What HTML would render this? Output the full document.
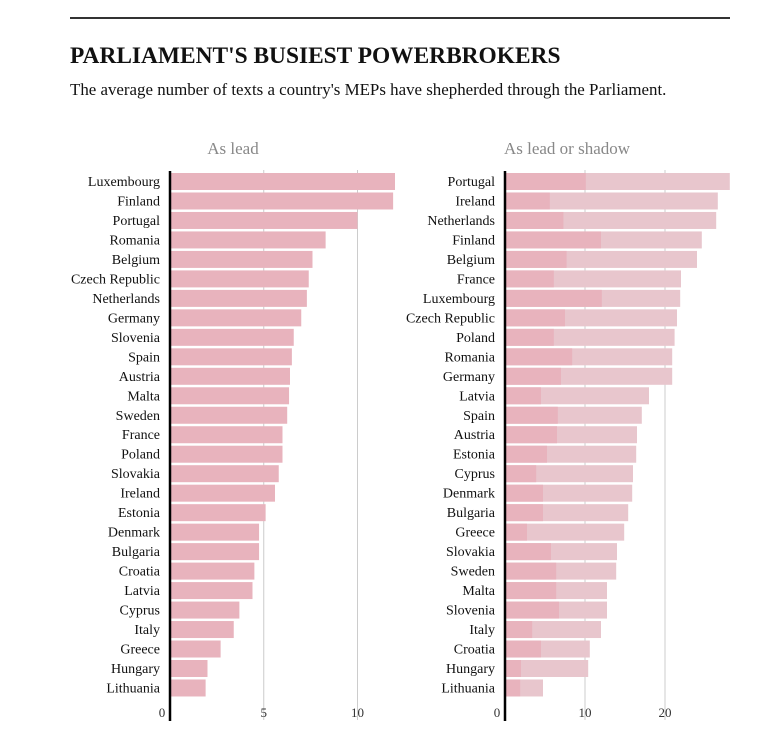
<!DOCTYPE html>
<html><head><meta charset="utf-8"><style>
body{margin:0;background:#fff;}
svg text{font-family:"Liberation Serif",serif;}
</style></head><body>
<svg id="c" width="784" height="744">
<line x1="70" y1="18" x2="730" y2="18" stroke="#333" stroke-width="2"/>
<text x="70" y="63" font-size="23.4" font-weight="bold" fill="#111">PARLIAMENT'S BUSIEST POWERBROKERS</text>
<text x="70" y="95" font-size="16.9" fill="#111">The average number of texts a country's MEPs have shepherded through the Parliament.</text>
<text x="233" y="154" font-size="17" fill="#888" text-anchor="middle">As lead</text>
<text x="567" y="154" font-size="17" fill="#888" text-anchor="middle">As lead or shadow</text>
</svg>
<script>
const leftCountries=["Luxembourg","Finland","Portugal","Romania","Belgium","Czech Republic","Netherlands","Germany","Slovenia","Spain","Austria","Malta","Sweden","France","Poland","Slovakia","Ireland","Estonia","Denmark","Bulgaria","Croatia","Latvia","Cyprus","Italy","Greece","Hungary","Lithuania"];
const leftValues=[12.0,11.9,10.0,8.3,7.6,7.4,7.3,7.0,6.6,6.5,6.4,6.35,6.25,6.0,6.0,5.8,5.6,5.1,4.75,4.75,4.5,4.4,3.7,3.4,2.7,2.0,1.9];
const rightCountries=["Portugal","Ireland","Netherlands","Finland","Belgium","France","Luxembourg","Czech Republic","Poland","Romania","Germany","Latvia","Spain","Austria","Estonia","Cyprus","Denmark","Bulgaria","Greece","Slovakia","Sweden","Malta","Slovenia","Italy","Croatia","Hungary","Lithuania"];
const rightTotal=[28.1,26.6,26.4,24.6,24.0,22.0,21.9,21.5,21.2,20.9,20.9,18.0,17.1,16.5,16.4,16.0,15.9,15.4,14.9,14.0,13.9,12.75,12.75,12.0,10.6,10.4,4.75];
const rightLead=[10.1,5.6,7.3,12.0,7.7,6.1,12.1,7.5,6.1,8.4,7.0,4.5,6.6,6.5,5.25,3.9,4.75,4.75,2.75,5.75,6.4,6.4,6.75,3.4,4.5,2.0,1.9];
const leftTicks=[0,5,10];
const rightTicks=[0,10,20];
const svg=document.getElementById('c');const NS="http://www.w3.org/2000/svg";
function mk(t,a){const e=document.createElementNS(NS,t);for(const k in a)e.setAttribute(k,a[k]);svg.appendChild(e);return e;}
const y=i=>173+i*19.48;const bh=17;
const lx=v=>170+v*18.75;const rx=v=>505+v*8;
leftTicks.forEach(t=>{if(t>0){const g=mk('line',{x1:lx(t),x2:lx(t),y1:170,y2:720,stroke:'#ccc'});}
const tx=mk('text',{x:lx(t)-(t==0?8:0),y:717,'font-size':13,fill:'#333','text-anchor':'middle'});tx.textContent=t;});
rightTicks.forEach(t=>{if(t>0){const g=mk('line',{x1:rx(t),x2:rx(t),y1:170,y2:720,stroke:'#ccc'});}
const tx=mk('text',{x:rx(t)-(t==0?8:0),y:717,'font-size':13,fill:'#333','text-anchor':'middle'});tx.textContent=t;});
leftCountries.forEach((c,i)=>{
const r=mk('rect',{x:lx(0),y:y(i),width:lx(leftValues[i])-lx(0),height:bh,fill:'#e8b3bd'});

const t=mk('text',{x:160,y:y(i)+13,'font-size':14,fill:'#111','text-anchor':'end'});t.textContent=c;
});
rightCountries.forEach((c,i)=>{
const r=mk('rect',{x:rx(0),y:y(i),width:rx(rightTotal[i])-rx(0),height:bh,fill:'#e8c6cd'});

const r2=mk('rect',{x:rx(0),y:y(i),width:rx(rightLead[i])-rx(0),height:bh,fill:'#e8b3bd'});

const t=mk('text',{x:495,y:y(i)+13,'font-size':14,fill:'#111','text-anchor':'end'});t.textContent=c;
});
const a1=mk('line',{x1:170,x2:170,y1:171,y2:721,stroke:'#000','stroke-width':2.5});

const a2=mk('line',{x1:505,x2:505,y1:171,y2:721,stroke:'#000','stroke-width':2.5});

</script>
</body></html>
